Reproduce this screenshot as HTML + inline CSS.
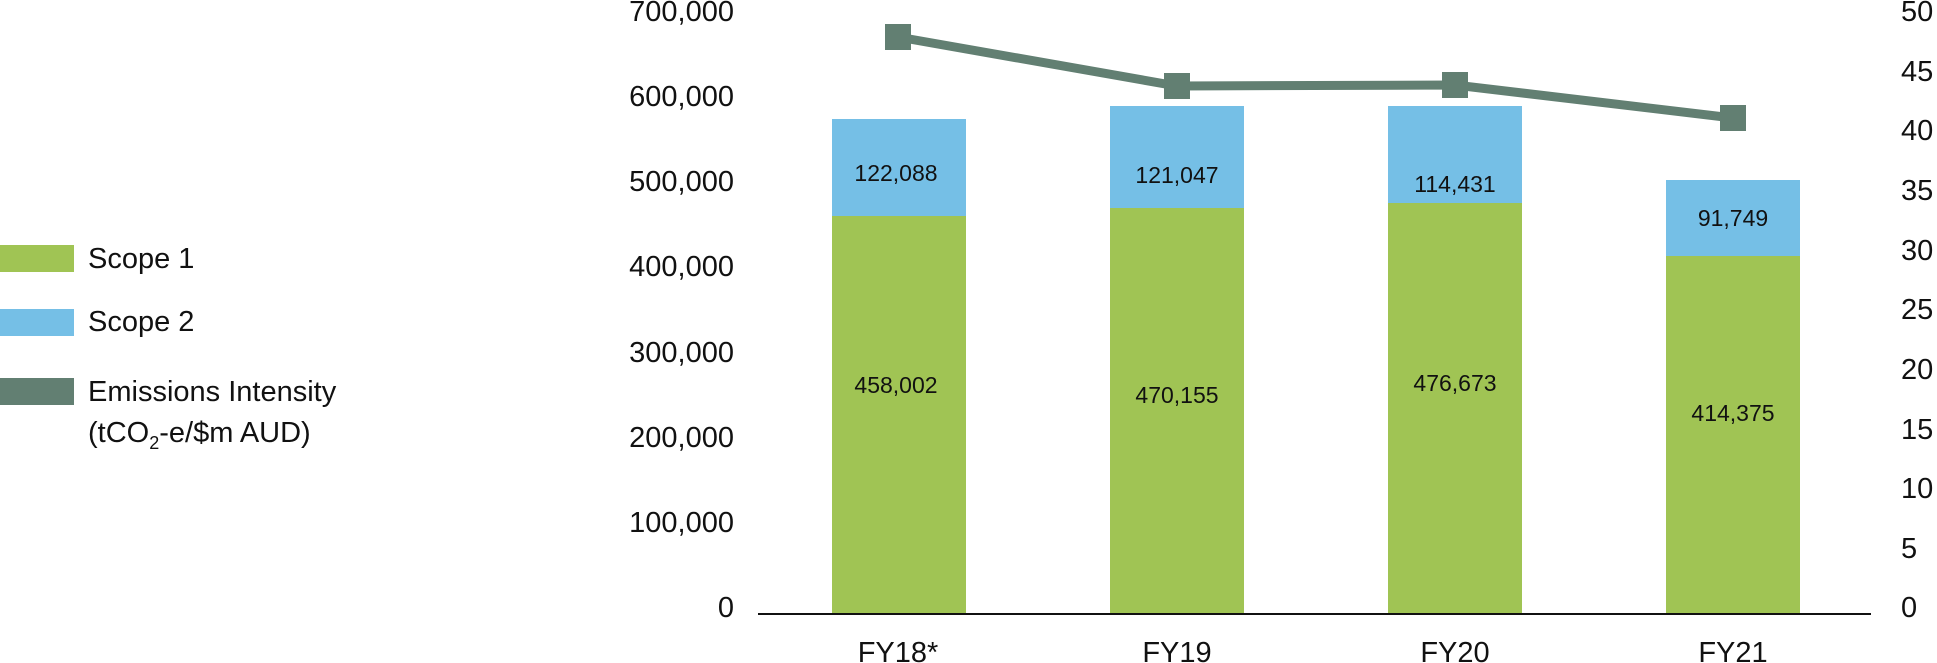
<!DOCTYPE html>
<html><head><meta charset="utf-8"><style>
html,body{margin:0;padding:0;background:#fff;}
svg{display:block;font-family:"Liberation Sans",sans-serif;}
</style></head><body>
<svg width="1937" height="663" viewBox="0 0 1937 663" xmlns="http://www.w3.org/2000/svg">
<rect x="0" y="245" width="74" height="27" fill="#a0c454"/>
<rect x="0" y="309" width="74" height="27" fill="#75bfe6"/>
<rect x="0" y="378" width="74" height="27" fill="#627f72"/>
<g font-size="29" fill="#111">
<text x="88" y="268">Scope 1</text>
<text x="88" y="331">Scope 2</text>
<text x="88" y="401">Emissions Intensity</text>
<text x="88" y="442">(tCO<tspan font-size="18" dy="7">2</tspan><tspan dy="-7">-e/$m AUD)</tspan></text>
</g>
<g font-size="29" fill="#111" text-anchor="end">
<text x="734" y="21">700,000</text>
<text x="734" y="106">600,000</text>
<text x="734" y="191">500,000</text>
<text x="734" y="276">400,000</text>
<text x="734" y="362">300,000</text>
<text x="734" y="447">200,000</text>
<text x="734" y="532">100,000</text>
<text x="734" y="617">0</text>
</g>
<g font-size="29" fill="#111">
<text x="1901" y="21">50</text>
<text x="1901" y="81">45</text>
<text x="1901" y="140">40</text>
<text x="1901" y="200">35</text>
<text x="1901" y="260">30</text>
<text x="1901" y="319">25</text>
<text x="1901" y="379">20</text>
<text x="1901" y="439">15</text>
<text x="1901" y="498">10</text>
<text x="1901" y="558">5</text>
<text x="1901" y="617">0</text>
</g>
<rect x="832" y="216" width="134" height="398" fill="#a0c454"/>
<rect x="832" y="119" width="134" height="97" fill="#75bfe6"/>
<rect x="1110" y="208" width="134" height="406" fill="#a0c454"/>
<rect x="1110" y="106" width="134" height="102" fill="#75bfe6"/>
<rect x="1388" y="203" width="134" height="411" fill="#a0c454"/>
<rect x="1388" y="106" width="134" height="97" fill="#75bfe6"/>
<rect x="1666" y="256" width="134" height="358" fill="#a0c454"/>
<rect x="1666" y="180" width="134" height="76" fill="#75bfe6"/>
<line x1="758" y1="614" x2="1871" y2="614" stroke="#111" stroke-width="2"/>
<g font-size="23" fill="#111" text-anchor="middle">
<text x="896" y="181">122,088</text>
<text x="896" y="393">458,002</text>
<text x="1177" y="183">121,047</text>
<text x="1177" y="403">470,155</text>
<text x="1455" y="192">114,431</text>
<text x="1455" y="391">476,673</text>
<text x="1733" y="226">91,749</text>
<text x="1733" y="421">414,375</text>
</g>
<g font-size="29" fill="#111" text-anchor="middle">
<text x="898" y="662">FY18*</text>
<text x="1177" y="662">FY19</text>
<text x="1455" y="662">FY20</text>
<text x="1733" y="662">FY21</text>
</g>
<polyline points="898,37 1177,86 1455,85 1733,118" fill="none" stroke="#627f72" stroke-width="9"/>
<g fill="#627f72">
<rect x="885" y="24" width="26" height="26"/>
<rect x="1164" y="73" width="26" height="26"/>
<rect x="1442" y="72" width="26" height="26"/>
<rect x="1720" y="105" width="26" height="26"/>
</g>
</svg>
</body></html>
